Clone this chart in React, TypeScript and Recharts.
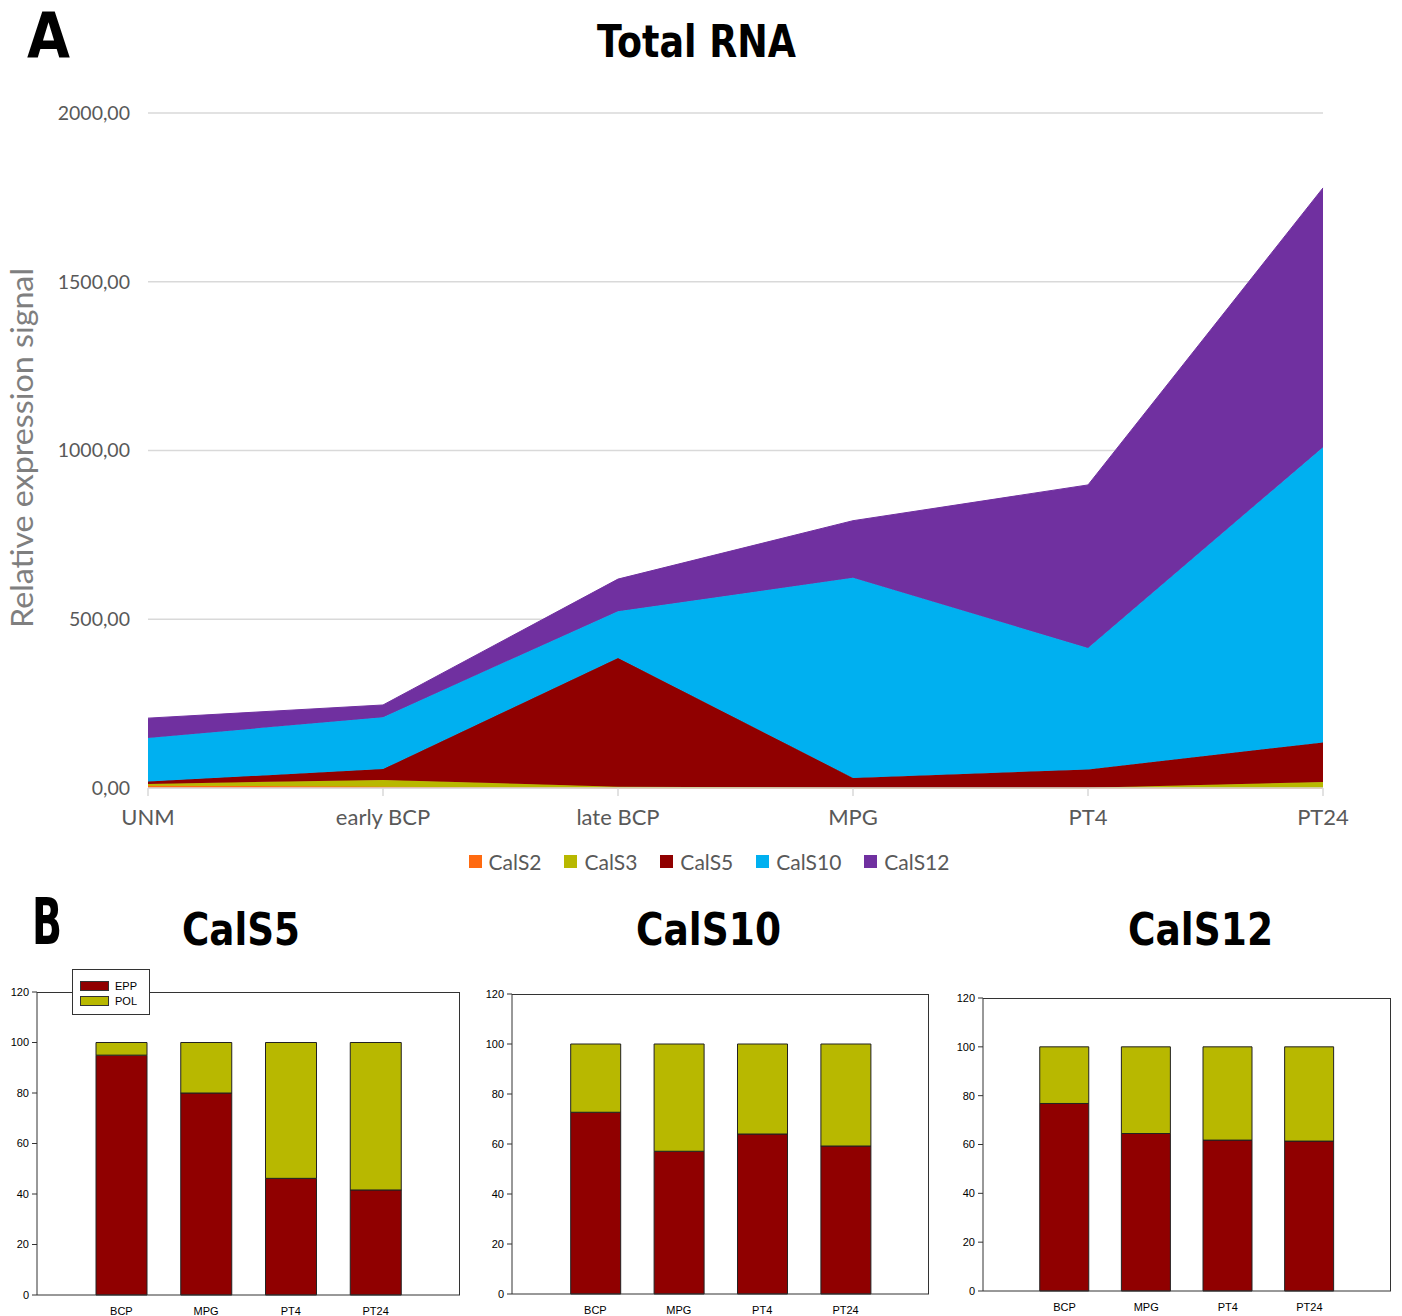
import React from 'react';
import {
  AreaChart, Area, BarChart, Bar, XAxis, YAxis, CartesianGrid, Legend,
} from 'recharts';

// ---------- Panel A data ----------
const stages = ['UNM', 'early BCP', 'late BCP', 'MPG', 'PT4', 'PT24'];
const calS2 = [7, 4, 0, 0, 0, 0];
const calS3 = [5, 20, 4, 1, 1, 18];
const calS5 = [7, 32, 381, 29, 54, 117];
const calS10 = [129, 154, 139, 593, 360, 875];
const calS12 = [59, 36, 95, 169, 483, 768];
const yTicksA = [0, 500, 1000, 1500, 2000];

const seriesNames = ['CalS2', 'CalS3', 'CalS5', 'CalS10', 'CalS12'];
const seriesColors = ['#FF6A10', '#B8B800', '#900000', '#00B0F0', '#7030A0'];
const seriesValues = [calS2, calS3, calS5, calS10, calS12];

// ---------- Panel B data ----------
const barCats = ['BCP', 'MPG', 'PT4', 'PT24'];
const epp5 = [95.0, 80.0, 46.2, 41.6];
const epp10 = [72.7, 57.1, 64.0, 59.2];
const epp12 = [76.8, 64.5, 61.8, 61.4];
const yTicksB = [0, 20, 40, 60, 80, 100, 120];

const areaData = stages.map((s, i) => {
  const row: any = { stage: s };
  seriesNames.forEach((n, k) => { row[n] = seriesValues[k][i]; });
  return row;
});

const mkBarData = (epp: number[]) =>
  barCats.map((c, i) => ({ cat: c, EPP: epp[i], POL: +(100 - epp[i]).toFixed(1) }));

const EPP_COLOR = '#900000';
const POL_COLOR = '#B8B800';

const fmtA = (v: number) => v.toFixed(2).replace('.', ',');

const AreaLegend = (props: any) => {
  const payload = props.payload || [];
  const ordered = seriesNames
    .map((n) => payload.find((p: any) => p.value === n))
    .filter(Boolean);
  return (
    <div style={{ display: 'flex', justifyContent: 'center', gap: 23, fontFamily: 'Lato', fontSize: 21, color: '#595959' }}>
      {ordered.map((p: any) => (
        <div key={p.value} style={{ display: 'flex', alignItems: 'center' }}>
          <span style={{ display: 'inline-block', width: 13, height: 13, background: p.color, marginRight: 7 }} />
          <span>{p.value}</span>
        </div>
      ))}
    </div>
  );
};

const BarLegend = (props: any) => {
  const payload = props.payload || [];
  const ordered = ['EPP', 'POL'].map((n) => payload.find((p: any) => p.value === n)).filter(Boolean);
  return (
    <div style={{ width: 76, height: 44, background: '#fff', border: '1px solid #333', boxSizing: 'content-box', fontFamily: 'Liberation Sans, Arial', fontSize: 11, color: '#000' }}>
      {ordered.map((p: any, i: number) => (
        <div key={p.value} style={{ display: 'flex', alignItems: 'center', position: 'absolute', left: 8, top: 11 + i * 14.5 }}>
          <span style={{ display: 'inline-block', width: 27, height: 8, background: p.color, border: '1px solid #333', marginRight: 6 }} />
          <span>{p.value}</span>
        </div>
      ))}
    </div>
  );
};

type BarPanelProps = {
  data: any[];
  left: number;
  width: number;
  top: number;
  yAxisW: number;
  marginTop: number;
  marginRight: number;
  xAxisH: number;
  pad: number;
  barSize: number;
  legend?: boolean;
};

const tickStyleB = { fontFamily: 'Liberation Sans, Arial', fontSize: 11, fill: '#000' };

const BarPanel = (p: BarPanelProps) => (
  <div style={{ position: 'absolute', left: p.left, top: p.top }}>
    <BarChart
      width={p.width}
      height={356}
      data={p.data}
      margin={{ top: p.marginTop, right: p.marginRight, left: 0, bottom: 0 }}
      barSize={p.barSize}
    >
      <CartesianGrid
        horizontalPoints={[p.marginTop + 0.5]}
        verticalPoints={[p.width - p.marginRight - 0.5]}
        stroke="#333"
        strokeWidth={1}
      />
      <XAxis
        dataKey="cat"
        height={p.xAxisH}
        padding={{ left: p.pad, right: p.pad }}
        tickLine={false}
        tickSize={0}
        tickMargin={12}
        axisLine={{ stroke: '#333' }}
        tick={tickStyleB}
        interval={0}
      />
      <YAxis
        domain={[0, 120]}
        ticks={yTicksB}
        width={p.yAxisW}
        tickSize={5}
        tickMargin={3}
        tickLine={{ stroke: '#333' }}
        axisLine={{ stroke: '#333' }}
        tick={tickStyleB}
        interval={0}
      />
      {p.legend && (
        <Legend
          layout="horizontal"
          verticalAlign="middle"
          align="center"
          content={<BarLegend />}
          wrapperStyle={{ top: 9, left: 72, width: 78, height: 46 }}
        />
      )}
      <Bar dataKey="EPP" stackId="s" fill={EPP_COLOR} stroke="#222" strokeWidth={1} isAnimationActive={false} />
      <Bar dataKey="POL" stackId="s" fill={POL_COLOR} stroke="#222" strokeWidth={1} isAnimationActive={false} />
    </BarChart>
  </div>
);

export default function App() {
  return (
    <div style={{ position: 'absolute', left: 0, top: 0, width: 1402, height: 1316, background: '#fff', overflow: 'hidden' }}>
      <div style={{ position: 'absolute', left: 0, top: 0 }}>
        <AreaChart width={1402} height={900} data={areaData} margin={{ top: 113, right: 79, left: 48, bottom: 72 }}>
          <CartesianGrid vertical={false} stroke="#d9d9d9" strokeWidth={1.5} />
          <XAxis
            dataKey="stage"
            height={40}
            interval={0}
            tickSize={8}
            tickMargin={13}
            axisLine={{ stroke: '#d9d9d9', strokeWidth: 1.5 }}
            tickLine={{ stroke: '#d9d9d9', strokeWidth: 1.5 }}
            tick={{ fontFamily: 'Lato', fontSize: 22, fill: '#595959' }}
          />
          <YAxis
            domain={[0, 2000]}
            ticks={yTicksA}
            width={100}
            axisLine={false}
            tickLine={false}
            tickMargin={12}
            tickFormatter={fmtA}
            tick={{ fontFamily: 'Lato', fontSize: 19.5, fill: '#595959' }}
            interval={0}
          />
          <Legend
            layout="horizontal"
            verticalAlign="middle"
            align="center"
            content={<AreaLegend />}
            wrapperStyle={{ top: 849, left: 16, width: 1386 }}
          />
          {seriesNames.map((n, k) => (
            <Area
              key={n}
              type="linear"
              dataKey={n}
              name={n}
              stackId="total"
              fill={seriesColors[k]}
              fillOpacity={1}
              stroke={seriesColors[k]}
              strokeWidth={1}
              isAnimationActive={false}
              dot={false}
              activeDot={false}
            />
          ))}
        </AreaChart>
      </div>

      <BarPanel data={mkBarData(epp5)} left={0} width={470} top={960} yAxisW={37} marginTop={32} marginRight={10} xAxisH={21} pad={42} barSize={51} legend />
      <BarPanel data={mkBarData(epp10)} left={470} width={470} top={960} yAxisW={42} marginTop={34} marginRight={11} xAxisH={22} pad={41.7} barSize={50} />
      <BarPanel data={mkBarData(epp12)} left={935} width={467} top={960} yAxisW={48} marginTop={38} marginRight={11} xAxisH={25} pad={40.75} barSize={49} />

      <svg width={1402} height={1316} style={{ position: 'absolute', left: 0, top: 0, pointerEvents: 'none' }}>
        <g fontFamily="DejaVu Sans" fontWeight="bold" fill="#000">
          <text x={27} y={57} fontSize={62} textLength={43} lengthAdjust="spacingAndGlyphs">A</text>
          <text x={597} y={57} fontSize={45} textLength={199} lengthAdjust="spacingAndGlyphs">Total RNA</text>
          <text x={32} y={944} fontSize={64} textLength={30} lengthAdjust="spacingAndGlyphs">B</text>
          <text x={182} y={945} fontSize={44} textLength={118} lengthAdjust="spacingAndGlyphs">CalS5</text>
          <text x={636} y={945} fontSize={44} textLength={145} lengthAdjust="spacingAndGlyphs">CalS10</text>
          <text x={1128} y={945} fontSize={44} textLength={145} lengthAdjust="spacingAndGlyphs">CalS12</text>
        </g>
        <text
          x={33}
          y={448}
          transform="rotate(-90 33 448)"
          textAnchor="middle"
          fontFamily="Lato"
          fontSize={30}
          textLength={360}
          lengthAdjust="spacingAndGlyphs"
          fill="#7f7f7f"
        >
          Relative expression signal
        </text>
      </svg>
    </div>
  );
}
